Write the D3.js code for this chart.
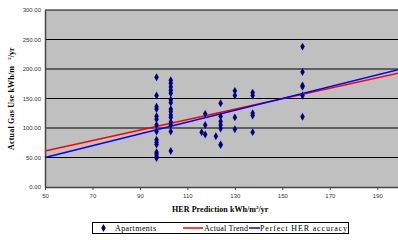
<!DOCTYPE html>
<html>
<head>
<meta charset="utf-8">
<script src="https://cdn.jsdelivr.net/npm/d3@7"></script>
<style>
  body { margin: 0; background: #fff; }
  svg { display: block; }
  .tick text { font-family: "Liberation Sans", Arial, sans-serif; font-size: 6px; fill: #333; }
</style>
</head>
<body>
<div id="chart"></div>
<script>
// values
var herX = [97, 103, 116, 117.5, 122, 124, 130, 137.5, 158.5];
var gasY = [
    [186,155,136,132,120,115,105,94,80,76,72,59,56,52,49],
    [181,176,170,164,159,148,143,132,128,122,118,110,105,94,61],
    [93],
    [124,105,89],
    [86],
    [142,120,111,105,99,72,71],
    [163,155,118,98],
    [160,155,125,121,93],
    [238,195,172,170,155,119]
];
var trendLine = [[50, 61], [200, 194]];
var perfectLine = [[50, 50], [200, 200]];
var xTicks = [50, 70, 90, 110, 130, 150, 170, 190];
var yTicks = [0, 50, 100, 150, 200, 250, 300];

var points = [];
herX.forEach((x, i) => {
    gasY[i].forEach(y => points.push({x: x, y: y}));
});

var width = 398, height = 240;
var margin = {top: 10, right: -3, bottom: 53, left: 45};

var svg = d3.select("#chart").append("svg")
    .attr("width", width)
    .attr("height", height);

var xScale = d3.scaleLinear()
    .domain([50, 200])
    .range([margin.left, width - margin.right]);

var yScale = d3.scaleLinear()
    .domain([0, 300])
    .range([height - margin.bottom, margin.top]);

// plot area
svg.append("rect")
    .attr("x", xScale(50))
    .attr("y", yScale(300))
    .attr("width", xScale(200) - xScale(50))
    .attr("height", yScale(0) - yScale(300))
    .style("fill", "#c0c0c0");

// grid
svg.selectAll(".grid")
    .data(yTicks.filter(d => d > 0))
    .enter().append("line")
    .attr("class", "grid")
    .attr("x1", xScale(50))
    .attr("x2", xScale(200))
    .attr("y1", d => yScale(d))
    .attr("y2", d => yScale(d))
    .style("stroke", "#000")
    .style("stroke-width", 1);

// axes
var xAxis = svg.append("g")
    .attr("transform", "translate(0," + yScale(0) + ")")
    .call(d3.axisBottom(xScale).tickValues(xTicks).tickSize(3).tickSizeOuter(0).tickFormat(d3.format("d")));
xAxis.select(".domain").style("stroke", "#444").style("stroke-width", 1.5);
xAxis.selectAll(".tick line").style("stroke", "#444");
xAxis.selectAll(".tick text").attr("dy", "0.9em");

var yAxis = svg.append("g")
    .attr("transform", "translate(" + xScale(50) + ",0)")
    .call(d3.axisLeft(yScale).tickValues(yTicks).tickSize(0).tickSizeOuter(0).tickFormat(d3.format(".2f")));
yAxis.select(".domain").style("stroke", "#444").style("stroke-width", 1.5);
yAxis.selectAll(".tick text").attr("x", -4);

// lines
var line = d3.line()
    .x(d => xScale(d[0]))
    .y(d => yScale(d[1]));

svg.append("path")
    .datum(trendLine)
    .attr("d", line)
    .style("fill", "none")
    .style("stroke", "#ff0000")
    .style("stroke-width", 1.5);

svg.append("path")
    .datum(perfectLine)
    .attr("d", line)
    .style("fill", "none")
    .style("stroke", "#0000ff")
    .style("stroke-width", 1.5);

// points
var diamond = d3.symbol().type(d3.symbolDiamond).size(18);
svg.selectAll(".dot")
    .data(points)
    .enter().append("path")
    .attr("class", "dot")
    .attr("d", diamond)
    .attr("transform", d => "translate(" + xScale(d.x) + "," + yScale(d.y) + ")")
    .style("fill", "#000080");

// axis titles
var serif = "'Liberation Serif', 'Times New Roman', serif";
var xTitle = svg.append("text")
    .attr("x", 172)
    .attr("y", 212)
    .style("font-family", serif)
    .style("font-weight", "bold")
    .style("font-size", "8px");
xTitle.append("tspan").attr("textLength", 84).text("HER Prediction kWh/m");
xTitle.append("tspan").attr("dy", -3).style("font-size", "5px").text("2");
xTitle.append("tspan").attr("dy", 3).text("/yr");

var yTitle = svg.append("text")
    .attr("transform", "translate(14,150) rotate(-90)")
    .style("font-family", serif)
    .style("font-weight", "bold")
    .style("font-size", "8px");
yTitle.append("tspan").attr("textLength", 84).text("Actual Gas Use kWh/m");
yTitle.append("tspan").attr("dx", 6).attr("dy", -3).style("font-size", "5px").text("2");
yTitle.append("tspan").attr("dy", 3).text("/yr");

// legend
var legend = svg.append("g");
legend.append("rect")
    .attr("x", 92.5).attr("y", 222.5)
    .attr("width", 256).attr("height", 11)
    .style("fill", "#fff")
    .style("stroke", "#000")
    .style("stroke-width", 1);

legend.append("path")
    .attr("d", diamond)
    .attr("transform", "translate(103.5,228)")
    .style("fill", "#000080");
legend.append("text").attr("x", 115).attr("y", 231)
    .attr("textLength", 41)
    .style("font-family", serif).style("font-size", "8px").text("Apartments");

legend.append("line").attr("x1", 183).attr("x2", 203).attr("y1", 228).attr("y2", 228)
    .style("stroke", "#ff0000").style("stroke-width", 1.5);
legend.append("text").attr("x", 204).attr("y", 231)
    .attr("textLength", 44)
    .style("font-family", serif).style("font-size", "8px").text("Actual Trend");

legend.append("line").attr("x1", 249).attr("x2", 260).attr("y1", 228).attr("y2", 228)
    .style("stroke", "#0000ff").style("stroke-width", 1.5);
legend.append("text").attr("x", 260).attr("y", 231)
    .attr("textLength", 87)
    .style("font-family", serif).style("font-size", "8px").text("Perfect HER accuracy");
</script>
</body>
</html>
